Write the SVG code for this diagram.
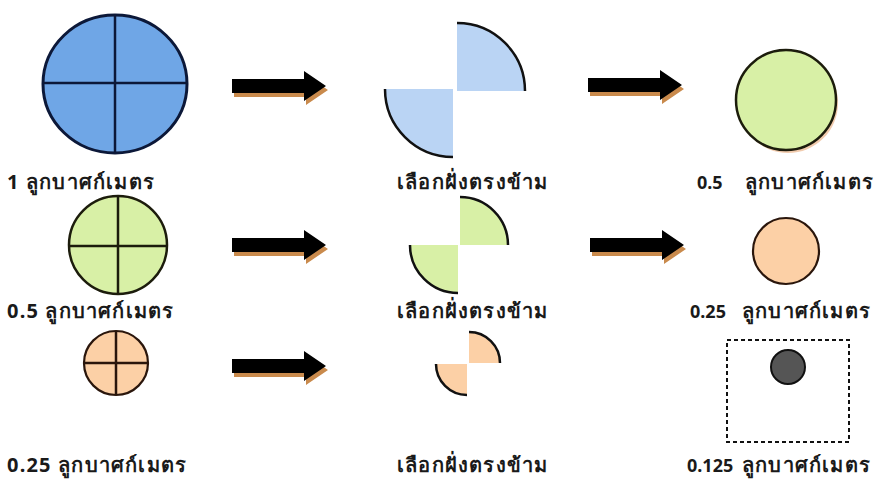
<svg xmlns="http://www.w3.org/2000/svg" width="880" height="479" viewBox="0 0 880 479">
<defs>
<style>
text{font-family:"Noto Sans","DejaVu Sans","Liberation Sans",sans-serif;font-size:20px;font-weight:bold;letter-spacing:1.2px;fill:#1a1a1a;}
text.num{font-size:18px;letter-spacing:0;}
.blue{fill:#6fa6e6;stroke:#0c1838;stroke-width:3;}
.bluel{fill:#bad4f4;}
.green{fill:#d8f0a6;stroke:#1c1c0c;stroke-width:2.5;}
.orange{fill:#fcd0a6;stroke:#2a160c;stroke-width:2.2;}
.cross{stroke-width:2.5;fill:none;}
.arc{fill:none;stroke:#111;stroke-width:2.5;}
.shadow{fill:#c98a4c;}
.arrow{fill:#000;}
</style>
<g id="arrowShape">
<path d="M0,-7 H72 V-15 L94,0 L72,15 V7 H0 Z"/>
</g>
</defs>
<rect width="880" height="479" fill="#fff"/>

<g id="connectors">
<g transform="translate(232,86)"><use href="#arrowShape" class="shadow" x="2" y="4"/><use href="#arrowShape" class="arrow"/></g>
<g transform="translate(588,85)"><use href="#arrowShape" class="shadow" x="2" y="4"/><use href="#arrowShape" class="arrow"/></g>
<g transform="translate(232,245)"><use href="#arrowShape" class="shadow" x="2" y="4"/><use href="#arrowShape" class="arrow"/></g>
<g transform="translate(590,245)"><use href="#arrowShape" class="shadow" x="2" y="4"/><use href="#arrowShape" class="arrow"/></g>
<g transform="translate(232,366)"><use href="#arrowShape" class="shadow" x="2" y="4"/><use href="#arrowShape" class="arrow"/></g>
</g>

<g id="whole1">
<ellipse class="blue" cx="115" cy="84" rx="72" ry="69"/>
<line class="cross" stroke="#0c1838" x1="43" y1="83" x2="187" y2="83"/>
<line class="cross" stroke="#0c1838" x1="115" y1="15" x2="115" y2="153"/>
<text x="7" y="189">1 ลูกบาศก์เมตร</text>
</g>

<g id="half1">
<path class="bluel" d="M457,91 L457,23 A68,68 0 0 1 525,91 Z"/>
<path class="arc" d="M457,23 A68,68 0 0 1 525,91"/>
<path class="bluel" d="M453,89 L453,157 A68,68 0 0 1 385,89 Z"/>
<path class="arc" d="M453,157 A68,68 0 0 1 385,89"/>
<text x="397" y="189">เลือกฝั่งตรงข้าม</text>
</g>

<g id="result1">
<circle cx="788" cy="103" r="50" fill="#e8a878" opacity="0.6"/>
<circle class="green" cx="786" cy="100" r="50"/>
<text class="num" x="697" y="189">0.5</text>
<text x="745" y="189">ลูกบาศก์เมตร</text>
</g>

<g id="whole2">
<circle class="green" cx="118" cy="245" r="49"/>
<line class="cross" stroke="#1c1c0c" x1="69" y1="246" x2="167" y2="246"/>
<line class="cross" stroke="#1c1c0c" x1="118" y1="196" x2="118" y2="294"/>
<text x="7" y="318">0.5 ลูกบาศก์เมตร</text>
</g>

<g id="half2">
<path fill="#d8f0a6" d="M460,245 L460,197 A48,48 0 0 1 508,245 Z"/>
<path class="arc" d="M460,197 A48,48 0 0 1 508,245"/>
<path fill="#d8f0a6" d="M458,245 L458,293 A48,48 0 0 1 410,245 Z"/>
<path class="arc" d="M458,293 A48,48 0 0 1 410,245"/>
<text x="397" y="318">เลือกฝั่งตรงข้าม</text>
</g>

<g id="result2">
<circle class="orange" cx="786" cy="251" r="33"/>
<text class="num" x="690" y="318">0.25</text>
<text x="742" y="318">ลูกบาศก์เมตร</text>
</g>

<g id="whole3">
<circle class="orange" cx="116" cy="363" r="32"/>
<line class="cross" stroke="#2a160c" x1="84" y1="363" x2="148" y2="363"/>
<line class="cross" stroke="#2a160c" x1="116" y1="331" x2="116" y2="395"/>
<text x="7" y="472">0.25 ลูกบาศก์เมตร</text>
</g>

<g id="half3">
<path fill="#fcd0a6" d="M469,363 L469,332 A31,31 0 0 1 500,363 Z"/>
<path class="arc" d="M469,332 A31,31 0 0 1 500,363"/>
<path fill="#fcd0a6" d="M467,364 L467,395 A31,31 0 0 1 436,364 Z"/>
<path class="arc" d="M467,395 A31,31 0 0 1 436,364"/>
<text x="397" y="472">เลือกฝั่งตรงข้าม</text>
</g>

<g id="result3">
<rect x="727" y="340" width="122" height="102" fill="none" stroke="#111" stroke-width="2" stroke-dasharray="4 3"/>
<circle cx="788" cy="367" r="17" fill="#555" stroke="#111" stroke-width="2"/>
<text class="num" x="687" y="472">0.125</text>
<text x="742" y="472">ลูกบาศก์เมตร</text>
</g>
</svg>
